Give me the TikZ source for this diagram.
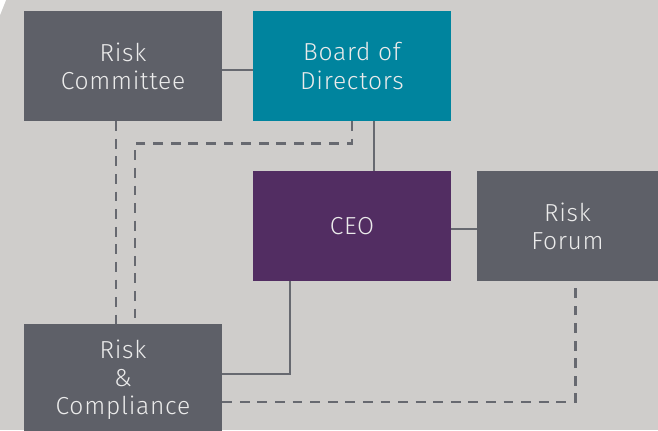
\documentclass[tikz,border=0pt]{standalone}
\usepackage{fontspec}
\setmainfont{Fira Sans}[UprightFont=* Light, LetterSpace=3]
\usepackage{xcolor}
\usetikzlibrary{positioning}
\definecolor{paper}{HTML}{CFCDCB}
\definecolor{slate}{HTML}{5E6068}
\definecolor{teal}{HTML}{00849E}
\definecolor{plum}{HTML}{522D62}
\definecolor{wire}{HTML}{676970}

\begin{document}
\begin{tikzpicture}[x=0.025cm, y=-0.025cm,
  box/.style={fill=slate, text=white!92!black, align=center,
    minimum width=4.95cm, minimum height=2.75cm, inner sep=0pt,
    font=\fontsize{17.5}{20}\selectfont},
  link/.style={draw=wire, line width=2pt},
  dashlink/.style={draw=wire, line width=2pt, dash pattern=on 7pt off 5.5pt}]

% ---------------- background ----------------
\fill[paper] (0,0) rectangle (658,430);
\fill[white] (0,0) -- (6,0) -- (0,15) -- cycle;
\clip (0,0) rectangle (658,430);

% ---------------- boxes ----------------
\node[box] (committee) at (123,66) {Risk\\Committee};
\node[box, fill=teal] (board) at (352,66) {Board of\\Directors};
\node[box, fill=plum] (ceo) at (352,226) {CEO};
\node[box, minimum width=4.525cm] (forum) at (567.5,226) {Risk\\Forum};
\node[box, minimum height=2.8cm] (compliance) at (123,380) {Risk\\\&\\Compliance};

% ---------------- solid lines ----------------
\draw[link] ([yshift=-1mm]committee.east) -- ([yshift=-1mm]board.west);
\draw[link] ([xshift=5.5mm]board.south) -- ([xshift=5.5mm]ceo.north);
\draw[link] ([yshift=-0.75mm]ceo.east) -- ([yshift=-0.75mm]forum.west);
\draw[link] ([xshift=-15.5mm]ceo.south) |- ([yshift=1.5mm]compliance.east);

% ---------------- dashed lines ----------------
\draw[dashlink] ([xshift=-1.75mm]committee.south) -- ([xshift=-1.75mm]compliance.north);
\draw[dashlink] (board.south) -- ++(0,22) -| ([xshift=3mm]compliance.north);
\draw[dashlink] ([yshift=-5.5mm]compliance.east) -| ([xshift=1.9mm]forum.south);
\end{tikzpicture}
\end{document}
